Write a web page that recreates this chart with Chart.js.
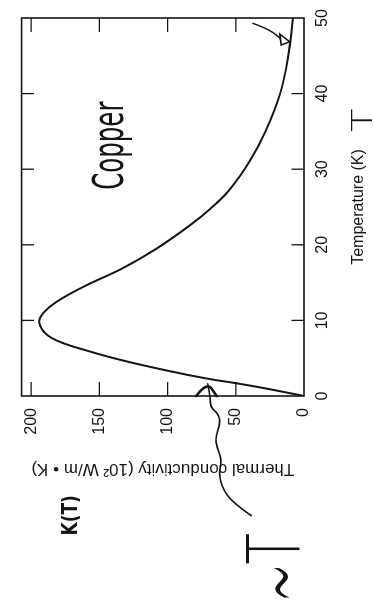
<!DOCTYPE html>
<html>
<head>
<meta charset="utf-8">
<script src="https://cdn.jsdelivr.net/npm/chart.js@4.4.1/dist/chart.umd.min.js"></script>
<style>
html, body { margin: 0; padding: 0; background: #fff; overflow: hidden; }
#page {
    position: absolute; left: 0; top: 0; width: 608px; height: 374px;
    transform-origin: 0 0;
    transform: translate(0, 608px) rotate(-90deg);
}
</style>
</head>
<body>
<div id="page"><canvas id="copperChart" width="608" height="374"></canvas></div>
<script>
// Temperature (K)
var temperature = [0, 1, 1.7, 2.3, 3.35, 4.8, 6, 7.1, 8.2, 9.75, 11, 12.5, 14.6, 16.8, 19.5, 22.8, 24.8, 27.2, 31, 34.9, 40, 45, 50];
// Thermal conductivity (10^2 W/m.K)
var conductivity = [0, 28, 50, 71, 100, 135, 159, 178, 189, 194, 191, 181, 160, 134, 108, 82, 68.5, 55, 40, 28.5, 17.5, 11.5, 8];

var tempTicks = [0, 10, 20, 30, 40, 50];
var condTicks = [0, 50, 100, 150, 200];

var axisFont = 'Liberation Sans, Arial, Helvetica, sans-serif';
var ink = '#141414';

function toPx(chart, t, k) {
    return { x: chart.scales.x.getPixelForValue(t), y: chart.scales.y.getPixelForValue(k) };
}

// draws a word so that its ink box is w x h, centred on (t, k)
function fitText(chart, text, t, k, w, h, font) {
    var ctx = chart.ctx;
    var p = toPx(chart, t, k);
    ctx.save();
    ctx.font = font;
    var m = ctx.measureText(text);
    var bw = m.actualBoundingBoxLeft + m.actualBoundingBoxRight;
    var bh = m.actualBoundingBoxAscent + m.actualBoundingBoxDescent;
    ctx.translate(p.x, p.y);
    ctx.scale(w / bw, h / bh);
    ctx.textAlign = 'left';
    ctx.textBaseline = 'alphabetic';
    ctx.fillStyle = ink;
    ctx.fillText(text, -bw / 2 + m.actualBoundingBoxLeft, -bh / 2 + m.actualBoundingBoxAscent);
    ctx.restore();
}

function strokePath(chart, pts, width) {
    var ctx = chart.ctx;
    var p = pts.map(function (d) { return toPx(chart, d[0], d[1]); });
    ctx.save();
    ctx.strokeStyle = ink;
    ctx.lineWidth = width;
    ctx.lineCap = 'round';
    ctx.lineJoin = 'round';
    ctx.beginPath();
    ctx.moveTo(p[0].x, p[0].y);
    for (var i = 1; i < p.length - 1; i++) {
        var mx = (p[i].x + p[i + 1].x) / 2, my = (p[i].y + p[i + 1].y) / 2;
        ctx.quadraticCurveTo(p[i].x, p[i].y, mx, my);
    }
    ctx.lineTo(p[p.length - 1].x, p[p.length - 1].y);
    ctx.stroke();
    ctx.restore();
}

var frameAndTicks = {
    id: 'frameAndTicks',
    afterDraw: function (chart) {
        var ctx = chart.ctx, a = chart.chartArea;
        var xs = chart.scales.x, ys = chart.scales.y;
        ctx.save();
        ctx.strokeStyle = ink;
        ctx.lineWidth = 1.6;
        ctx.strokeRect(a.left, a.top, a.right - a.left, a.bottom - a.top);
        ctx.lineWidth = 1.3;
        ctx.beginPath();
        xs.ticks.forEach(function (tk) {
            if (tk.value <= xs.min || tk.value >= xs.max) return;
            var px = xs.getPixelForValue(tk.value);
            ctx.moveTo(px, a.bottom); ctx.lineTo(px, a.bottom - 12.5);
            ctx.moveTo(px, a.top); ctx.lineTo(px, a.top + 12.5);
        });
        ys.ticks.forEach(function (tk) {
            if (tk.value <= ys.min || tk.value >= ys.max) return;
            var py = ys.getPixelForValue(tk.value);
            ctx.moveTo(a.left, py); ctx.lineTo(a.left + 14, py);
            ctx.moveTo(a.right, py); ctx.lineTo(a.right - 14, py);
        });
        ctx.stroke();
        ctx.restore();
    }
};

// pen notes written on the printed figure
var handNotes = {
    id: 'handNotes',
    afterDraw: function (chart) {
        var hand = '"DejaVu Sans", sans-serif';
        fitText(chart, 'Copper', 33.2, 141.2, 88, 40, '30px ' + hand);
        fitText(chart, 'K(T)', -15.74, 170.6, 38, 19, 'bold 22px ' + hand);
        fitText(chart, 'T', 36.5, -42.3, 24, 21, '200 24px ' + hand);
        fitText(chart, 'T', -20.2, 24, 30, 55, '200 60px ' + hand);
        fitText(chart, '~', -24.7, 17.2, 30, 16, '200 80px ' + hand);

        // wavy pointer to the linear (low T) part
        strokePath(chart, [[-15.83, 38.7], [-14.29, 50.7], [-12.53, 59.0], [-10.32, 62.6], [-8.56, 60.2],
            [-6.79, 63.8], [-5.46, 65.0], [-3.70, 61.4], [-2.38, 62.6], [-1.49, 68.6], [-0.17, 68.6], [1.6, 70.6]], 1.6);
        strokePath(chart, [[0.0, 79], [1.9, 71.2], [0.0, 64]], 2.6);

        // pointer to the high T tail
        strokePath(chart, [[49.3, 37.5], [48.6, 26.7], [47.5, 18.4], [47.2, 17.3]], 1.4);
        var ctx = chart.ctx;
        var A = toPx(chart, 47.88, 17.7), B = toPx(chart, 46.86, 10.5), C = toPx(chart, 46.43, 16.7);
        ctx.save();
        ctx.strokeStyle = ink;
        ctx.lineWidth = 1.6;
        ctx.beginPath();
        ctx.moveTo(A.x, A.y); ctx.lineTo(B.x, B.y); ctx.lineTo(C.x, C.y); ctx.closePath();
        ctx.stroke();
        ctx.restore();
    }
};

var points = temperature.map(function (t, i) { return { x: t, y: conductivity[i] }; });

new Chart(document.getElementById('copperChart'), {
    type: 'line',
    data: {
        datasets: [{
            data: points,
            borderColor: ink,
            borderWidth: 2,
            pointRadius: 0,
            fill: false,
            tension: 0.4
        }]
    },
    options: {
        responsive: false,
        animation: false,
        layout: { padding: { left: 0, top: 15, right: 18, bottom: 0 } },
        plugins: { legend: { display: false }, tooltip: { enabled: false } },
        scales: {
            x: {
                type: 'linear',
                position: 'bottom',
                min: 0,
                max: 50,
                afterBuildTicks: function (scale) {
                    scale.ticks = tempTicks.map(function (v) { return { value: v }; });
                },
                afterFit: function (scale) { scale.height = 70; },
                grid: { display: false, drawTicks: false },
                border: { display: false },
                ticks: { color: ink, padding: 9, maxRotation: 0, font: { family: axisFont, size: 16 } },
                title: {
                    display: true,
                    text: 'Temperature (K)',
                    color: ink,
                    font: { family: axisFont, size: 16 },
                    padding: { top: 0, bottom: 6 }
                }
            },
            y: {
                type: 'linear',
                position: 'left',
                min: 0,
                max: 207,
                afterBuildTicks: function (scale) {
                    scale.ticks = condTicks.map(function (v) { return { value: v }; });
                },
                afterFit: function (scale) { scale.width = 212; },
                grid: { display: false, drawTicks: false },
                border: { display: false },
                ticks: { color: ink, padding: 12, font: { family: axisFont, size: 16 } },
                title: {
                    display: true,
                    text: 'Thermal conductivity (10\u00b2 W/m \u2022 K)',
                    color: ink,
                    font: { family: axisFont, size: 17 },
                    padding: { top: 129, bottom: 0 }
                }
            }
        }
    },
    plugins: [frameAndTicks, handNotes]
});
</script>
</body>
</html>
